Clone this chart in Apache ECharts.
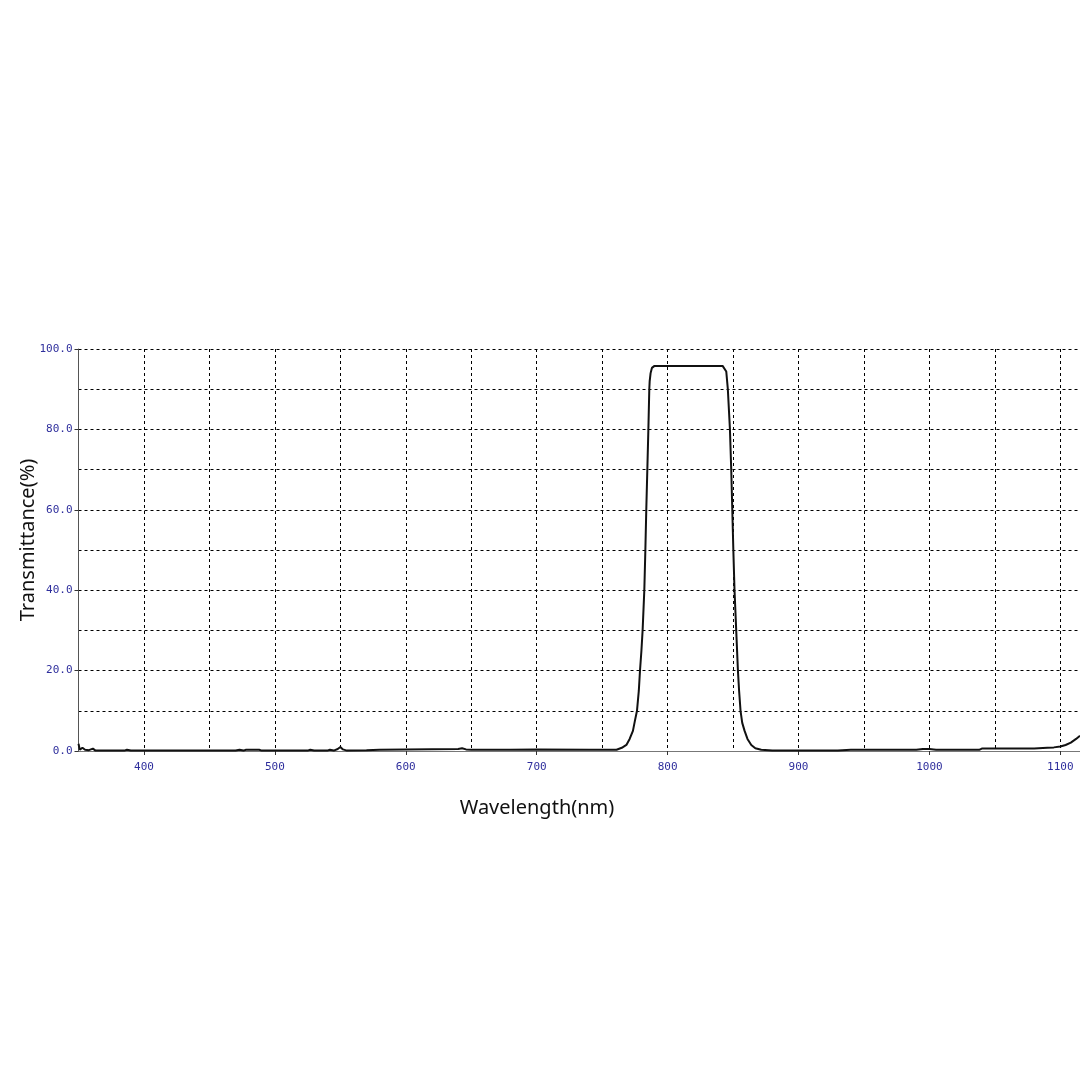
<!DOCTYPE html>
<html>
<head>
<meta charset="utf-8">
<title>Transmittance</title>
<script src="https://cdn.jsdelivr.net/npm/echarts@6/dist/echarts.min.js"></script>
<style>
    html, body { margin: 0; padding: 0; background: #fff; }
    #main { width: 1080px; height: 1080px; }
</style>
</head>
<body>
<div id="main"></div>
<script>
// wavelength (nm) and transmittance (%)
var wavelength = [
    350, 351, 353, 355, 358, 361, 363, 370, 385, 387, 390, 420, 470, 473, 476, 478,
    488, 490, 525, 527, 530, 540, 542, 545, 548, 550, 552, 555, 570, 580, 600, 640,
    643, 646, 650, 680, 700, 740, 755, 761,
    765, 768.5, 771, 773.5, 775, 776.6, 778, 778.9, 780, 780.9, 782.2, 783, 783.7,
    784.5, 785.3, 786, 786.3, 787, 788, 790, 800, 820, 842,
    843.5, 844.8, 846, 847.6, 848.6, 849.4, 850.2, 851.1, 852.4, 853.7, 854.6, 855.7,
    857, 858.8, 861, 863.9, 867, 871.5, 880,
    900, 930, 940, 960, 990, 995, 1000, 1005, 1038, 1040, 1080, 1090, 1095, 1100,
    1104, 1108, 1112, 1115
];
var transmittance = [
    1.8, 0.3, 0.8, 0.3, 0.2, 0.6, 0.1, 0.1, 0.1, 0.3, 0.1, 0.1, 0.1, 0.3, 0.1, 0.3,
    0.3, 0.1, 0.1, 0.3, 0.1, 0.1, 0.3, 0.1, 0.5, 1.0, 0.4, 0.1, 0.2, 0.3, 0.4, 0.5,
    0.7, 0.4, 0.3, 0.3, 0.4, 0.3, 0.3, 0.3,
    0.8, 1.5, 3, 5, 7.5, 10, 15, 20, 25, 30, 40, 50, 60,
    70, 80, 90, 92, 94, 95.3, 95.8, 95.8, 95.8, 95.8,
    95.4, 94.4, 90, 80, 70, 60, 50, 40, 30, 20, 15, 10,
    7, 5, 3, 1.5, 0.7, 0.3, 0.1,
    0.1, 0.1, 0.3, 0.3, 0.3, 0.5, 0.5, 0.3, 0.3, 0.6, 0.6, 0.8, 0.9, 1.1,
    1.5, 2.1, 3.0, 3.8
];
var xTickLabels = [400, 500, 600, 700, 800, 900, 1000, 1100];
var yTickLabels = [0, 20, 40, 60, 80, 100];

var points = wavelength.map(function (w, i) { return [w, transmittance[i]]; });

var tickFont = {
    fontFamily: 'DejaVu Sans Mono',
    fontSize: 11,
    color: '#2e2e9c'
};
var gridLine = {
    show: true,
    lineStyle: { color: '#000', width: 1, type: [3, 3] }
};
var titleFont = 'Noto Sans';

var chart = echarts.init(document.getElementById('main'));
var option = {
    backgroundColor: '#fff',
    animation: false,
    grid: { left: 78.5, right: 0, top: 349, bottom: 329 },
    xAxis: [{
        // grid lines every 50 nm
        type: 'value', min: 350, max: 1115, interval: 50,
        position: 'bottom',
        axisLine: { show: true, lineStyle: { color: '#777', width: 1 } },
        axisTick: { show: false },
        axisLabel: { show: false },
        splitLine: gridLine
    }, {
        // labels and ticks every 100 nm
        type: 'value', min: 350, max: 1115, interval: 50,
        position: 'bottom',
        axisLine: { show: false },
        axisTick: {
            show: true, length: 4, customValues: xTickLabels,
            lineStyle: { color: '#333' }
        },
        axisLabel: Object.assign({
            margin: 11,
            customValues: xTickLabels,
            formatter: function (v) { return String(v); }
        }, tickFont),
        splitLine: { show: false }
    }],
    yAxis: [{
        type: 'value', min: 0, max: 100, interval: 10,
        position: 'left',
        axisLine: { show: true, lineStyle: { color: '#555', width: 1 } },
        axisTick: { show: false },
        axisLabel: { show: false },
        splitLine: gridLine
    }, {
        type: 'value', min: 0, max: 100, interval: 10,
        position: 'left',
        axisLine: { show: false },
        axisTick: {
            show: true, length: 4, customValues: yTickLabels,
            lineStyle: { color: '#333' }
        },
        axisLabel: Object.assign({
            margin: 6,
            customValues: yTickLabels,
            formatter: function (v) { return v.toFixed(1); }
        }, tickFont),
        splitLine: { show: false }
    }],
    graphic: [{
        type: 'text',
        x: 537, y: 808,
        style: {
            text: 'Wavelength(nm)',
            font: '20px "' + titleFont + '"',
            fill: '#111',
            textAlign: 'center',
            textVerticalAlign: 'middle'
        }
    }, {
        type: 'text',
        x: 28, y: 540,
        rotation: Math.PI / 2,
        style: {
            text: 'Transmittance(%)',
            font: '20px "' + titleFont + '"',
            fill: '#111',
            textAlign: 'center',
            textVerticalAlign: 'middle'
        }
    }],
    series: [{
        type: 'line',
        data: points,
        showSymbol: false,
        clip: true,
        lineStyle: { color: '#111', width: 2 }
    }]
};
chart.setOption(option);
</script>
</body>
</html>
